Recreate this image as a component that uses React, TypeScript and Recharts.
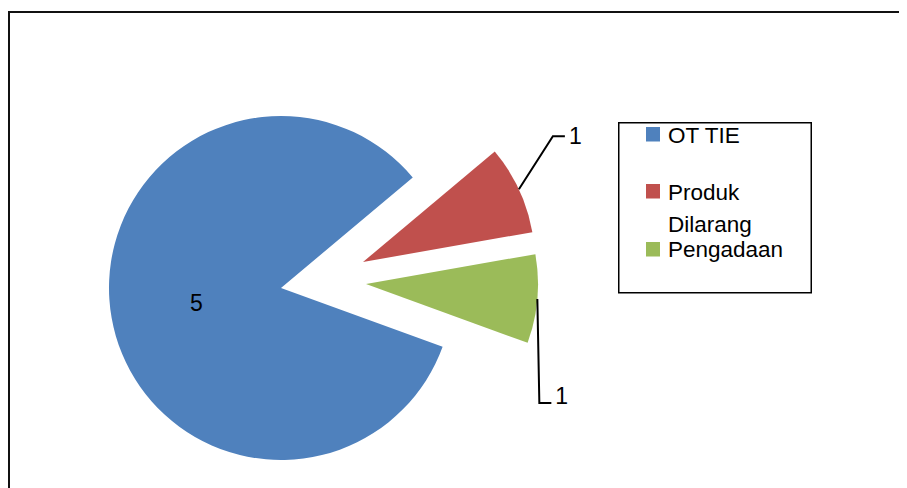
import React from 'react';
import { PieChart, Pie, Cell, Legend } from 'recharts';

const categories = ['OT TIE', 'Produk Dilarang', 'Pengadaan'];
const values = [5, 0.5, 0.5];
const colors = ['#4F81BD', '#C0504D', '#9BBB59'];

const data = categories.map((name, i) => ({ name, value: values[i] }));

const W = 899;
const H = 480;
const R = 172;
const FONT = '"Liberation Sans", Arial, sans-serif';
// exploded slice centres (pixel layout)
const centers: [number, number][] = [
  [273, 280],
  [355, 254],
  [358, 276],
];
// leader line styling for outside labels
const leaders: ({ dx: number; dy: number; tail: number; tdy: number } | null)[] = [
  null,
  { dx: 34, dy: -53, tail: 12, tdy: 8 },
  { dx: 2, dy: 104, tail: 12, tdy: 1 },
];

const RAD = Math.PI / 180;

function makeLabel(k: number) {
  return (p: any) => {
    if (p.index !== k) return <g />;
    const { cx, cy, midAngle, outerRadius, value } = p;
    const cos = Math.cos(-midAngle * RAD);
    const sin = Math.sin(-midAngle * RAD);
    const txt = String(Math.round(value));
    const ld = leaders[k];
    if (!ld) {
      const x = cx + outerRadius * 0.5 * cos;
      const y = cy + outerRadius * 0.5 * sin;
      return (
        <text x={x} y={y} textAnchor="middle" dominantBaseline="central" fontSize={23} fill="#000" fontFamily={FONT}>
          {txt}
        </text>
      );
    }
    const sx = cx + outerRadius * cos;
    const sy = cy + outerRadius * sin;
    const ex = sx + ld.dx;
    const ey = sy + ld.dy;
    const tx = ex + ld.tail;
    return (
      <g>
        <polyline points={`${sx},${sy} ${ex},${ey} ${tx},${ey}`} fill="none" stroke="#000" strokeWidth={2} />
        <text x={tx + 4} y={ey + ld.tdy} textAnchor="start" fontSize={23} fill="#000" fontFamily={FONT}>
          {txt}
        </text>
      </g>
    );
  };
}

const legendBaselines = [20.7, 78, 134.7];
const legendSquares = [5, 62, 120];

function LegendBox() {
  return (
    <svg width={194} height={172} style={{ display: 'block' }}>
      <rect x={0.75} y={0.75} width={192.5} height={170} fill="#fff" stroke="#000" strokeWidth={1.5} />
      {categories.map((c, i) => {
        const words = c === 'Produk Dilarang' ? ['Produk', 'Dilarang'] : [c];
        return (
          <g key={c}>
            <rect x={28} y={legendSquares[i]} width={14} height={14.5} fill={colors[i]} />
            {words.map((w, j) => (
              <text key={w} x={50} y={legendBaselines[i] + j * 31.7} fontSize={22.5} fill="#000" fontFamily={FONT}>
                {w}
              </text>
            ))}
          </g>
        );
      })}
    </svg>
  );
}

export default function App() {
  return (
    <div style={{ position: 'relative', width: W, height: H, overflow: 'hidden', background: '#fff' }}>
      <div
        style={{
          position: 'absolute',
          left: 0,
          top: 3,
          width: 2000,
          height: 2000,
          borderLeft: '2px solid #111',
          borderTop: '2px solid #111',
        }}
      />
      <PieChart width={W} height={H} margin={{ top: 0, right: 0, bottom: 0, left: 0 }} style={{ fontFamily: FONT }}>
        {centers.map(([cx, cy], k) => (
          <Pie
            key={k}
            data={data}
            dataKey="value"
            nameKey="name"
            cx={cx}
            cy={cy}
            outerRadius={R}
            startAngle={-20}
            endAngle={-380}
            stroke="none"
            legendType="none"
            isAnimationActive={false}
            labelLine={false}
            label={makeLabel(k)}
          >
            {data.map((d, i) => (
              <Cell key={d.name} fill={i === k ? colors[i] : 'transparent'} stroke="none" />
            ))}
          </Pie>
        ))}
        <Legend
          content={() => <LegendBox />}
          wrapperStyle={{ position: 'absolute', left: 610, top: 114, width: 194, height: 172 }}
        />
      </PieChart>
    </div>
  );
}
